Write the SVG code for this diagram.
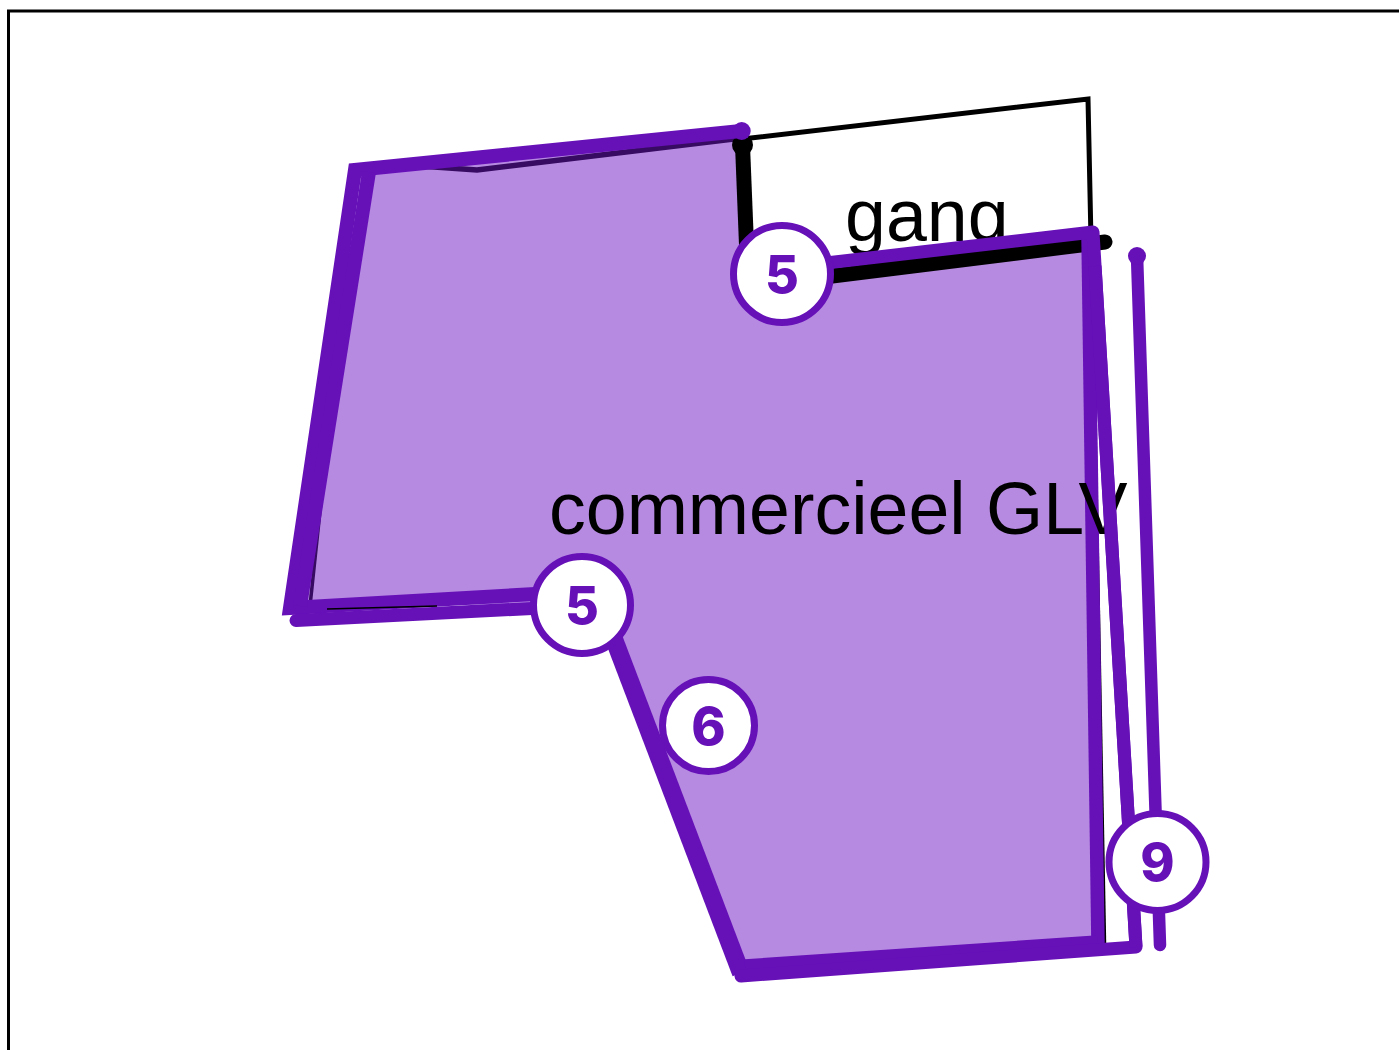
<svg xmlns="http://www.w3.org/2000/svg" width="1399" height="1050" viewBox="0 0 1399 1050">
<style>
.lbl{font-family:"Liberation Sans",Arial,sans-serif;font-size:73.5px;fill:#000}
.p{fill:none;stroke:#6610b8;stroke-linejoin:miter}
.k{fill:none;stroke:#000}
.rd{stroke-linecap:round;stroke-linejoin:round}
.badge circle{fill:#fff;stroke:#6610b8;stroke-width:7}
.badge text{font-family:Inter,"Liberation Sans",sans-serif;font-weight:800;font-size:52px;fill:#6610b8;text-anchor:middle}
</style>
<rect width="1399" height="1050" fill="#fff"/>
<path id="frame" d="M8.500,1050V11H1399" fill="none" stroke="#000" stroke-width="3"/>
<g id="gang">
<path class="k" stroke-width="5" d="M742,139L1088,99L1091,240"/>
<text class="lbl" x="845" y="241">gang</text>
</g>
<g id="commercieel">
<path class="k" stroke-width="5.500" d="M742,138L477,170L420,166"/>
<path class="k" stroke-width="3.500" d="M356,170L310,606"/>
<path class="k" stroke-width="2.500" d="M1092,240L1105,944"/>
<path fill="#6f16c4" fill-opacity=".5" d="M362,168L741,134L745,240L782,274L1090,240L1098,942L745,966L590,605L305,604Z"/>
</g>
<g id="connectors">
<circle cx="742.500" cy="145" r="10.500" fill="#000"/>
<path class="k" stroke-width="15" d="M742.500,145L746.500,245"/>
<path class="k rd" stroke-width="15" d="M800,280L1105,242"/>
<path class="p" stroke-width="14" d="M741,131L355,170L290,608L535,594"/>
<path class="p" stroke-width="14" d="M369,172L300,606"/>
<path class="p" stroke-width="13.500" d="M1088,235L1098,945"/>
<path class="p" stroke-width="18" d="M601,605L741,973"/>
<path class="p" stroke-width="13.500" d="M745,966L1098,942"/>
<path class="p rd" stroke-width="13" d="M296,620.500L590,605.500M741,976L1136,947L1093,232L800,266"/>
<path class="p rd" stroke-width="12.500" d="M1137,256L1160,945"/>
<circle cx="741.700" cy="131" r="9" fill="#6610b8"/>
<circle cx="1137" cy="256" r="9" fill="#6610b8"/>
<path class="k" stroke-width="1.500" d="M327,609L437,606"/>
</g>
<text class="lbl" x="549" y="533.500">commercieel GLV</text>
<path class="p" stroke-width="13" d="M1095,266L1136,947"/>
<g id="badge-5a" class="badge"><circle cx="782" cy="274" r="48.500"/><text x="782" y="293">5</text></g>
<g id="badge-5b" class="badge"><circle cx="582" cy="605" r="48.500"/><text x="582" y="624">5</text></g>
<g id="badge-6" class="badge"><circle cx="708.500" cy="725.500" r="46"/><text x="708.500" y="744.500">6</text></g>
<g id="badge-9" class="badge"><circle cx="1157.500" cy="862" r="48.500"/><text x="1157.500" y="881">9</text></g>
</svg>
